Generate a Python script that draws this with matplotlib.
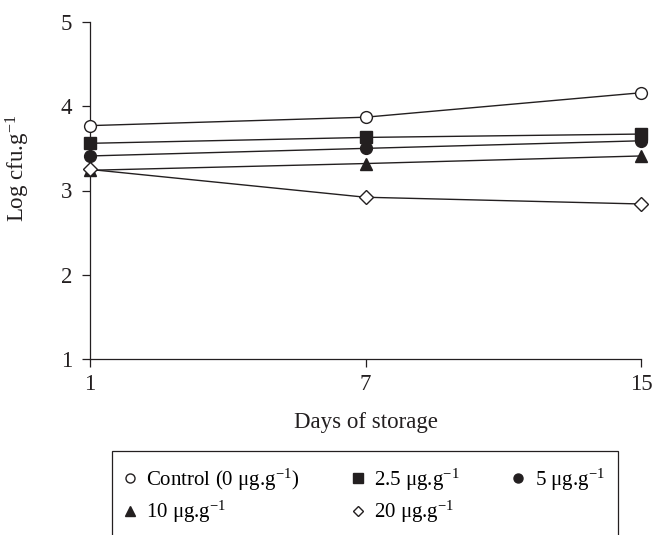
import matplotlib
matplotlib.use("Agg")
import matplotlib.pyplot as plt
from matplotlib.patches import Rectangle

# Data
days = ["1", "7", "15"]
control = [3.77, 3.87, 4.16]
dose_2_5 = [3.56, 3.63, 3.67]
dose_5 = [3.41, 3.50, 3.59]
dose_10 = [3.24, 3.32, 3.41]
dose_20 = [3.25, 2.92, 2.84]

series_labels = [
    "Control (0 μg.g$^{-1}$)",
    "2.5 μg.g$^{-1}$",
    "5 μg.g$^{-1}$",
    "10 μg.g$^{-1}$",
    "20 μg.g$^{-1}$",
]

INK = "#231f20"

plt.rcParams.update({
    "font.family": ["Liberation Serif", "DejaVu Serif"],
    "mathtext.fontset": "custom",
    "mathtext.rm": "Liberation Serif",
    "mathtext.it": "Liberation Serif:italic",
    "axes.spines.top": False,
    "axes.spines.right": False,
})

W, H = 654, 535
fig = plt.figure(figsize=(W / 100, H / 100), dpi=100)
ax = fig.add_axes([90 / W, 1 - 359 / H, (641 - 90) / W, (359 - 22) / H])

x = range(len(days))
styles = [
    (control, "o", "white"),
    (dose_2_5, "s", INK),
    (dose_5, "o", INK),
    (dose_10, "^", INK),
    (dose_20, "D", "white"),
]
handles = []
for (vals, mk, fc), lab in zip(styles, series_labels):
    ms = 7 if mk == "D" else 8.5
    ax.plot(x, vals, color=INK, lw=1.0, clip_on=False, zorder=2)
    ax.plot(x, vals, ls="none", marker=mk, ms=ms, mfc=fc, mec=INK,
            mew=1.0, clip_on=False, zorder=3)
    h, = ax.plot([], [], ls="none", marker=mk, ms=6.5 if mk != "D" else 5.5,
                 mfc=fc, mec=INK, mew=1.0, label=lab)
    handles.append(h)

ax.set_xlim(0, 2)
ax.set_ylim(1, 5)
ax.set_xticks(list(x))
ax.set_xticklabels(days)
ax.set_yticks([1, 2, 3, 4, 5])
for s in ("left", "bottom"):
    ax.spines[s].set_color(INK)
    ax.spines[s].set_linewidth(0.9)
ax.tick_params(axis="both", direction="out", length=6, width=0.9,
               color=INK, labelsize=16.5, labelcolor=INK)
ax.tick_params(axis="x", pad=5)
ax.tick_params(axis="y", pad=7)

ax.set_xlabel("Days of storage", fontsize=16.5, color=INK, labelpad=12)
fig.text(18 / W, 1 - 168 / H, "Log cfu.g$^{-1}$", rotation=90,
         ha="center", va="center", fontsize=16.5, color=INK)

# legend frame runs off the bottom edge, as in the reference
fig.patches.append(Rectangle((112 / W, -0.05), (618 - 112) / W,
                             (1 - 451 / H) + 0.05, transform=fig.transFigure,
                             fill=False, ec=INK, lw=0.9))

order = [0, 3, 1, 4, 2]
fig.legend([handles[i] for i in order], [series_labels[i] for i in order],
           ncol=3, loc="upper left", bbox_to_anchor=(113 / W, 1 - 456 / H),
           frameon=False, fontsize=15, handlelength=0.6, handletextpad=0.5,
           columnspacing=2.5, labelspacing=0.3, borderpad=0)

fig.savefig("out.png", dpi=100)
